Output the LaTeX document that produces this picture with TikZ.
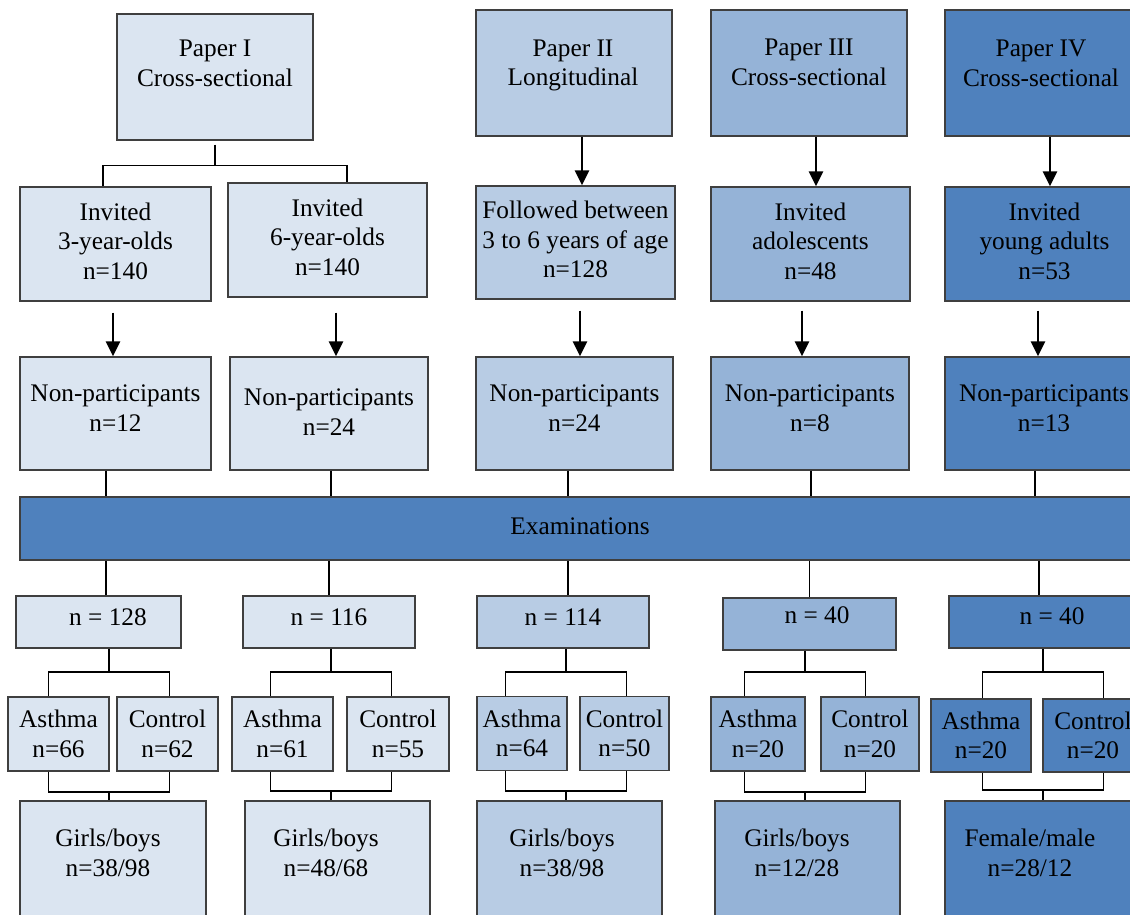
\documentclass[tikz,border=0pt]{standalone}
\usepackage{fontspec}
\setmainfont{Liberation Serif}
\usetikzlibrary{arrows.meta}

\definecolor{shadeA}{HTML}{DBE5F1}
\definecolor{shadeB}{HTML}{B8CCE4}
\definecolor{shadeC}{HTML}{95B3D7}
\definecolor{shadeD}{HTML}{4F81BD}
\definecolor{rim}{HTML}{3F3F3F}

\begin{document}
\begin{tikzpicture}[x=1pt,y=-1pt,font=\fontsize{25.3}{29.5}\selectfont,
  box/.style={draw=rim,line width=1.3pt,inner sep=0pt,align=center},
  boxA/.style={box,fill=shadeA},
  boxB/.style={box,fill=shadeB},
  boxC/.style={box,fill=shadeC},
  boxD/.style={box,fill=shadeD},
  txt/.style={inner sep=0pt,align=center},
  link/.style={line width=1.1pt},
  arr/.style={line width=2.8pt,-{Triangle[length=15pt,width=14pt]}}]
 \useasboundingbox (0,0) rectangle (1130,915);
 \clip (0,0) rectangle (1130,915);

 % papers
 \node[boxA,minimum width=196pt,minimum height=126pt] (p1) at (215,77) {};
 \node[boxB,minimum width=196pt,minimum height=126pt] (p2) at (574,73) {};
 \node[boxC,minimum width=196pt,minimum height=126pt] (p3) at (809,73) {};
 \node[boxD,minimum width=196pt,minimum height=126pt] (p4) at (1043,73) {};
 \node[txt] (p1t) at (215,63.5) {Paper I\\Cross-sectional};
 \node[txt] (p2t) at (573,65.5) {Paper II\\Longitudinal};
 \node[txt] (p3t) at (809,62.5) {Paper III\\Cross-sectional};
 \node[txt] (p4t) at (1041,63.5) {Paper IV\\Cross-sectional};

 % invited
 \node[boxA,minimum width=191pt,minimum height=114pt,text depth=6pt] (inv3) at (115.5,244) {Invited\\3-year-olds\\n=140};
 \node[boxA,minimum width=199pt,minimum height=114pt,text depth=6pt] (inv6) at (327.5,240) {Invited\\6-year-olds\\n=140};
 \node[boxB,minimum width=199pt,minimum height=113pt,text depth=6pt] (fol) at (575.5,242.5) {Followed between\\3 to 6 years of age\\n=128};
 \node[boxC,minimum width=199pt,minimum height=114pt,text depth=6pt] (inva) at (810.5,244) {Invited\\adolescents\\n=48};
 \node[boxD,minimum width=199pt,minimum height=114pt,text depth=6pt] (invy) at (1044.5,244) {Invited\\young adults\\n=53};

 % non-participants
 \node[boxA,minimum width=191pt,minimum height=113pt,text depth=11pt] (np1) at (115.5,413.5) {Non-participants\\n=12};
 \node[boxA,minimum width=198pt,minimum height=113pt,text depth=3pt] (np2) at (329,413.5) {Non-participants\\n=24};
 \node[boxB,minimum width=197pt,minimum height=113pt,text depth=11pt] (np3) at (574.5,413.5) {Non-participants\\n=24};
 \node[boxC,minimum width=198pt,minimum height=113pt,text depth=11pt] (np4) at (810,413.5) {Non-participants\\n=8};
 \node[boxD,minimum width=198pt,minimum height=113pt,text depth=11pt] (np5) at (1044,413.5) {Non-participants\\n=13};

 \node[boxD,minimum width=1120pt,minimum height=63pt,text depth=4pt] (exam) at (580,528.5) {Examinations};

 % included
 \node[boxA,minimum width=165pt,minimum height=52pt,text depth=10pt] (n128) at (98.5,622) {\hspace*{19pt}n = 128};
 \node[boxA,minimum width=172pt,minimum height=52pt,text depth=10pt] (n116) at (329,622) {n = 116};
 \node[boxB,minimum width=172pt,minimum height=52pt,text depth=10pt] (n114) at (563,622) {n = 114};
 \node[boxC,minimum width=173pt,minimum height=52pt,text depth=18pt] (n40a) at (809.5,624) {\hspace*{15pt}n = 40};
 \node[boxD,minimum width=206pt,minimum height=52pt,text depth=12pt] (n40b) at (1052,622) {n = 40};

 % asthma / control
 \node[boxA,minimum width=101pt,minimum height=74pt] (a1) at (58.5,734) {Asthma\\n=66};
 \node[boxA,minimum width=101pt,minimum height=74pt] (ct1) at (167.5,734) {Control\\n=62};
 \node[boxA,minimum width=101pt,minimum height=74pt] (a2) at (282.5,734) {Asthma\\n=61};
 \node[boxA,minimum width=102pt,minimum height=74pt] (ct2) at (398,734) {Control\\n=55};
 \node[boxB,minimum width=90pt,minimum height=74pt] (a3) at (522,733.5) {Asthma\\n=64};
 \node[boxB,minimum width=89pt,minimum height=74pt] (ct3) at (624.5,733.5) {Control\\n=50};
 \node[boxC,minimum width=94pt,minimum height=74pt] (a4) at (758,734) {Asthma\\n=20};
 \node[boxC,minimum width=98pt,minimum height=74pt] (ct4) at (870,734) {Control\\n=20};
 \node[boxD,minimum width=100pt,minimum height=73pt] (a5) at (981,735.5) {Asthma\\n=20};
 \node[boxD,minimum width=100pt,minimum height=73pt] (ct5) at (1093,735.5) {Control\\n=20};

 % sex
 \node[boxA,minimum width=186pt,minimum height=134pt] (g1) at (113,868) {};
 \node[boxA,minimum width=185pt,minimum height=134pt] (g2) at (337.5,868) {};
 \node[boxB,minimum width=185pt,minimum height=134pt] (g3) at (569.5,868) {};
 \node[boxC,minimum width=185pt,minimum height=134pt] (g4) at (807.5,868) {};
 \node[boxD,minimum width=205pt,minimum height=134pt] (g5) at (1047.5,868) {};
 \node[txt] (g1t) at (108,853) {Girls/boys\\n=38/98};
 \node[txt] (g2t) at (326,853) {Girls/boys\\n=48/68};
 \node[txt] (g3t) at (562,853) {Girls/boys\\n=38/98};
 \node[txt] (g4t) at (797,853) {Girls/boys\\n=12/28};
 \node[txt] (g5t) at (1030,853) {Female/male\\n=28/12};

 % arrows
 \draw[arr] ([xshift=8pt]p2.south) -- ([xshift=6.5pt]fol.north);
 \draw[arr] ([xshift=7pt]p3.south) -- ([xshift=5.5pt]inva.north);
 \draw[arr] ([xshift=7pt]p4.south) -- ([xshift=5.5pt]invy.north);
 \draw[arr] ([xshift=-2.5pt,yshift=-11pt]inv3.south) -- ([xshift=-2.5pt]np1.north);
 \draw[arr] ([xshift=8.5pt,yshift=-15pt]inv6.south) -- ([xshift=7pt]np2.north);
 \draw[arr] ([xshift=4.5pt,yshift=-11pt]fol.south) -- ([xshift=5.5pt]np3.north);
 \draw[arr] ([xshift=-8.5pt,yshift=-9pt]inva.south) -- ([xshift=-8pt]np4.north);
 \draw[arr] ([xshift=-6.5pt,yshift=-9pt]invy.south) -- ([xshift=-6pt]np5.north);

 % paper I split
 \draw[link] ([yshift=-4pt]p1.south) -- ([yshift=-25pt]p1.south);
 \draw[link] ([xshift=-12.5pt]inv3.north) |- ([yshift=-25pt]p1.south) -| ([xshift=19.5pt]inv6.north);

 % to and from the examinations
 \draw[link] ([xshift=-9.5pt]np1.south) -- ([xshift=-9.5pt]np1.south |- exam.north);
 \draw[link] ([xshift=2pt]np2.south) -- ([xshift=2pt]np2.south |- exam.north);
 \draw[link] ([xshift=-6.5pt]np3.south) -- ([xshift=-6.5pt]np3.south |- exam.north);
 \draw[link] ([xshift=1pt]np4.south) -- ([xshift=1pt]np4.south |- exam.north);
 \draw[link] ([xshift=-9pt]np5.south) -- ([xshift=-9pt]np5.south |- exam.north);
 \draw[link] ([xshift=7.5pt]n128.north) -- ([xshift=7.5pt]n128.north |- exam.south);
 \draw[link] (n116.north) -- (n116.north |- exam.south);
 \draw[link] ([xshift=5pt]n114.north) -- ([xshift=5pt]n114.north |- exam.south);
 \draw[link] (n40a.north) -- (n40a.north |- exam.south);
 \draw[link] ([xshift=-13pt]n40b.north) -- ([xshift=-13pt]n40b.north |- exam.south);

 % forks
 \coordinate (f1) at (109,672);  \coordinate (m1) at (109,792);
 \coordinate (f2) at (331,672);  \coordinate (m2) at (331,791);
 \coordinate (f3) at (566,672);  \coordinate (m3) at (566,791);
 \coordinate (f4) at (805,672);  \coordinate (m4) at (805,792);
 \coordinate (f5) at (1043,672); \coordinate (m5) at (1043,790);

 \draw[link] (n128.south -| f1) -- (f1);
 \draw[link] ([xshift=-60.5pt]f1 |- a1.north) |- (f1) -| ([xshift=60.5pt]f1 |- ct1.north);
 \draw[link] ([xshift=-60.5pt]m1 |- a1.south) |- (m1) -| ([xshift=60.5pt]m1 |- ct1.south);
 \draw[link] (m1) -- (m1 |- g1.north);

 \draw[link] (n116.south -| f2) -- (f2);
 \draw[link] ([xshift=-60.5pt]f2 |- a2.north) |- (f2) -| ([xshift=60.5pt]f2 |- ct2.north);
 \draw[link] ([xshift=-60.5pt]m2 |- a2.south) |- (m2) -| ([xshift=60.5pt]m2 |- ct2.south);
 \draw[link] (m2) -- (m2 |- g2.north);

 \draw[link] (n114.south -| f3) -- (f3);
 \draw[link] ([xshift=-60.5pt]f3 |- a3.north) |- (f3) -| ([xshift=60.5pt]f3 |- ct3.north);
 \draw[link] ([xshift=-60.5pt]m3 |- a3.south) |- (m3) -| ([xshift=60.5pt]m3 |- ct3.south);
 \draw[link] (m3) -- (m3 |- g3.north);

 \draw[link] (n40a.south -| f4) -- (f4);
 \draw[link] ([xshift=-60.5pt]f4 |- a4.north) |- (f4) -| ([xshift=60.5pt]f4 |- ct4.north);
 \draw[link] ([xshift=-60.5pt]m4 |- a4.south) |- (m4) -| ([xshift=60.5pt]m4 |- ct4.south);
 \draw[link] (m4) -- (m4 |- g4.north);

 \draw[link] (n40b.south -| f5) -- (f5);
 \draw[link] ([xshift=-60.5pt]f5 |- a5.north) |- (f5) -| ([xshift=60.5pt]f5 |- ct5.north);
 \draw[link] ([xshift=-60.5pt]m5 |- a5.south) |- (m5) -| ([xshift=60.5pt]m5 |- ct5.south);
 \draw[link] (m5) -- (m5 |- g5.north);
\end{tikzpicture}
\end{document}
